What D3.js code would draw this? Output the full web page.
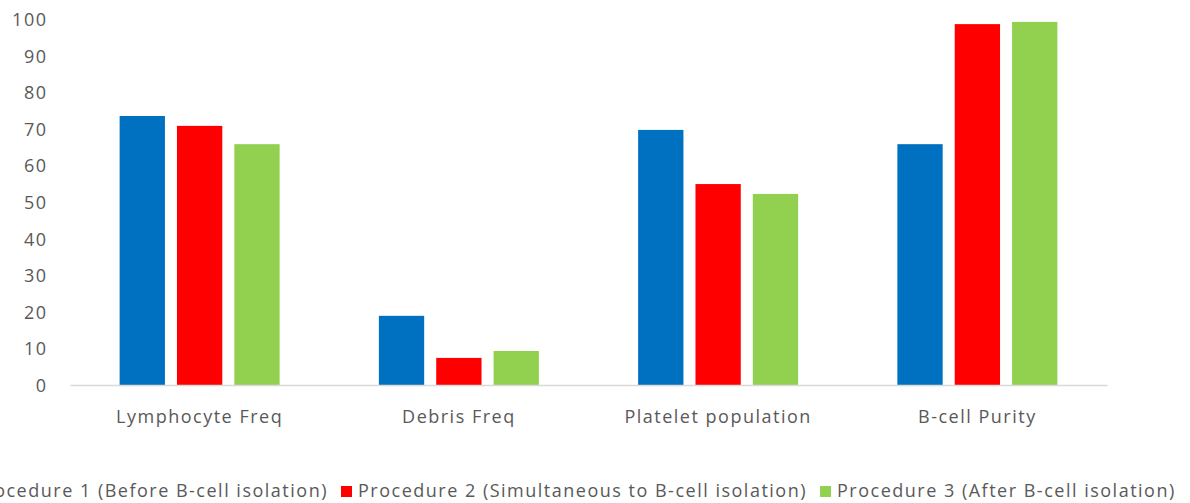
<!DOCTYPE html>
<html>
<head>
<meta charset="utf-8">
<script src="https://cdn.jsdelivr.net/npm/d3@7"></script>
<style>
  html, body { margin: 0; padding: 0; background: #fff; }
  svg { display: block; }
  text { font-family: "Open Sans", "Noto Sans", sans-serif; fill: #595959; }
</style>
</head>
<body>
<svg id="chart" width="1190" height="503"></svg>
<script>
// Measurement categories along the x axis
const categories = ["Lymphocyte Freq", "Debris Freq", "Platelet population", "B-cell Purity"];

// Series names as shown in the legend
const seriesNames = [
  "Procedure 1 (Before B-cell isolation)",
  "Procedure 2 (Simultaneous to B-cell isolation)",
  "Procedure 3 (After B-cell isolation)"
];

// Values per series, one per category
const procedure1 = [73.5, 18.9, 69.7, 65.8];
const procedure2 = [70.8, 7.4, 54.9, 98.6];
const procedure3 = [65.8, 9.3, 52.2, 99.2];

const yTicks = [0, 10, 20, 30, 40, 50, 60, 70, 80, 90, 100];

const seriesValues = [procedure1, procedure2, procedure3];
const colors = ["#0070C0", "#FF0000", "#92D050"];

const svg = d3.select("#chart");

const plotLeft = 70, plotRight = 1107, plotTop = 19, plotBottom = 385;

const x0 = d3.scaleBand().domain(categories).range([plotLeft, plotRight]).padding(0);
const groupWidth = 160;
const x1 = d3.scaleBand().domain(d3.range(seriesNames.length)).range([0, groupWidth]).paddingInner(0.21);
const y = d3.scaleLinear().domain([0, 100]).range([plotBottom, plotTop]);

// Y axis labels only (no axis line, no gridlines)
const yAxis = d3.axisLeft(y).tickValues(yTicks).tickSize(0).tickPadding(0);
const yG = svg.append("g").attr("transform", "translate(47.5,0)").call(yAxis);
yG.select(".domain").remove();
yG.selectAll("text")
  .attr("font-size", 18)
  .style("font-family", "\"Open Sans\", sans-serif")
  .style("letter-spacing", "1.5px")
  .attr("fill", "#595959")
  .attr("dy", "0.36em");

// Bars
const groups = svg.append("g").selectAll("g")
  .data(categories)
  .join("g")
  .attr("transform", d => `translate(${x0(d) + (x0.bandwidth() - groupWidth) / 2},0)`);

groups.selectAll("rect")
  .data((c, ci) => seriesValues.map((vals, si) => ({ si, v: vals[ci] })))
  .join("rect")
  .attr("x", d => x1(d.si))
  .attr("width", x1.bandwidth())
  .attr("y", d => y(d.v))
  .attr("height", d => y(0) - y(d.v))
  .attr("fill", d => colors[d.si]);

// X axis baseline and category labels
const xAxis = d3.axisBottom(x0).tickSize(0).tickPadding(0);
const xG = svg.append("g").attr("transform", `translate(0,${plotBottom})`).call(xAxis);
xG.select(".domain").attr("stroke", "#d9d9d9").attr("stroke-width", 1.5);
xG.selectAll("text")
  .attr("font-size", 18)
  .style("font-family", "\"Open Sans\", sans-serif")
  .style("letter-spacing", "1.5px")
  .attr("fill", "#595959")
  .attr("y", 38)
  .attr("dy", null);

// Legend laid out left to right; the second entry's swatch sits at a fixed x
const legendBaseline = 497;
const swatch = 11, textOffset = 17, gap = 13;
const legend = svg.append("g");
const items = legend.selectAll("g").data(seriesNames).join("g");
items.append("rect")
  .attr("width", swatch).attr("height", swatch)
  .attr("y", legendBaseline - swatch)
  .attr("fill", (d, i) => colors[i]);
items.append("text")
  .attr("x", textOffset)
  .attr("y", legendBaseline)
  .attr("font-size", 18)
  .style("letter-spacing", "1.5px")
  .text(d => d);

const widths = [];
items.each(function () { widths.push(this.querySelector("text").getComputedTextLength()); });
const itemW = widths.map(w => textOffset + w);
const secondX = 341;
const starts = [secondX - gap - itemW[0], secondX, secondX + itemW[1] + gap];
items.attr("transform", (d, i) => `translate(${starts[i]},0)`);
</script>
</body>
</html>
